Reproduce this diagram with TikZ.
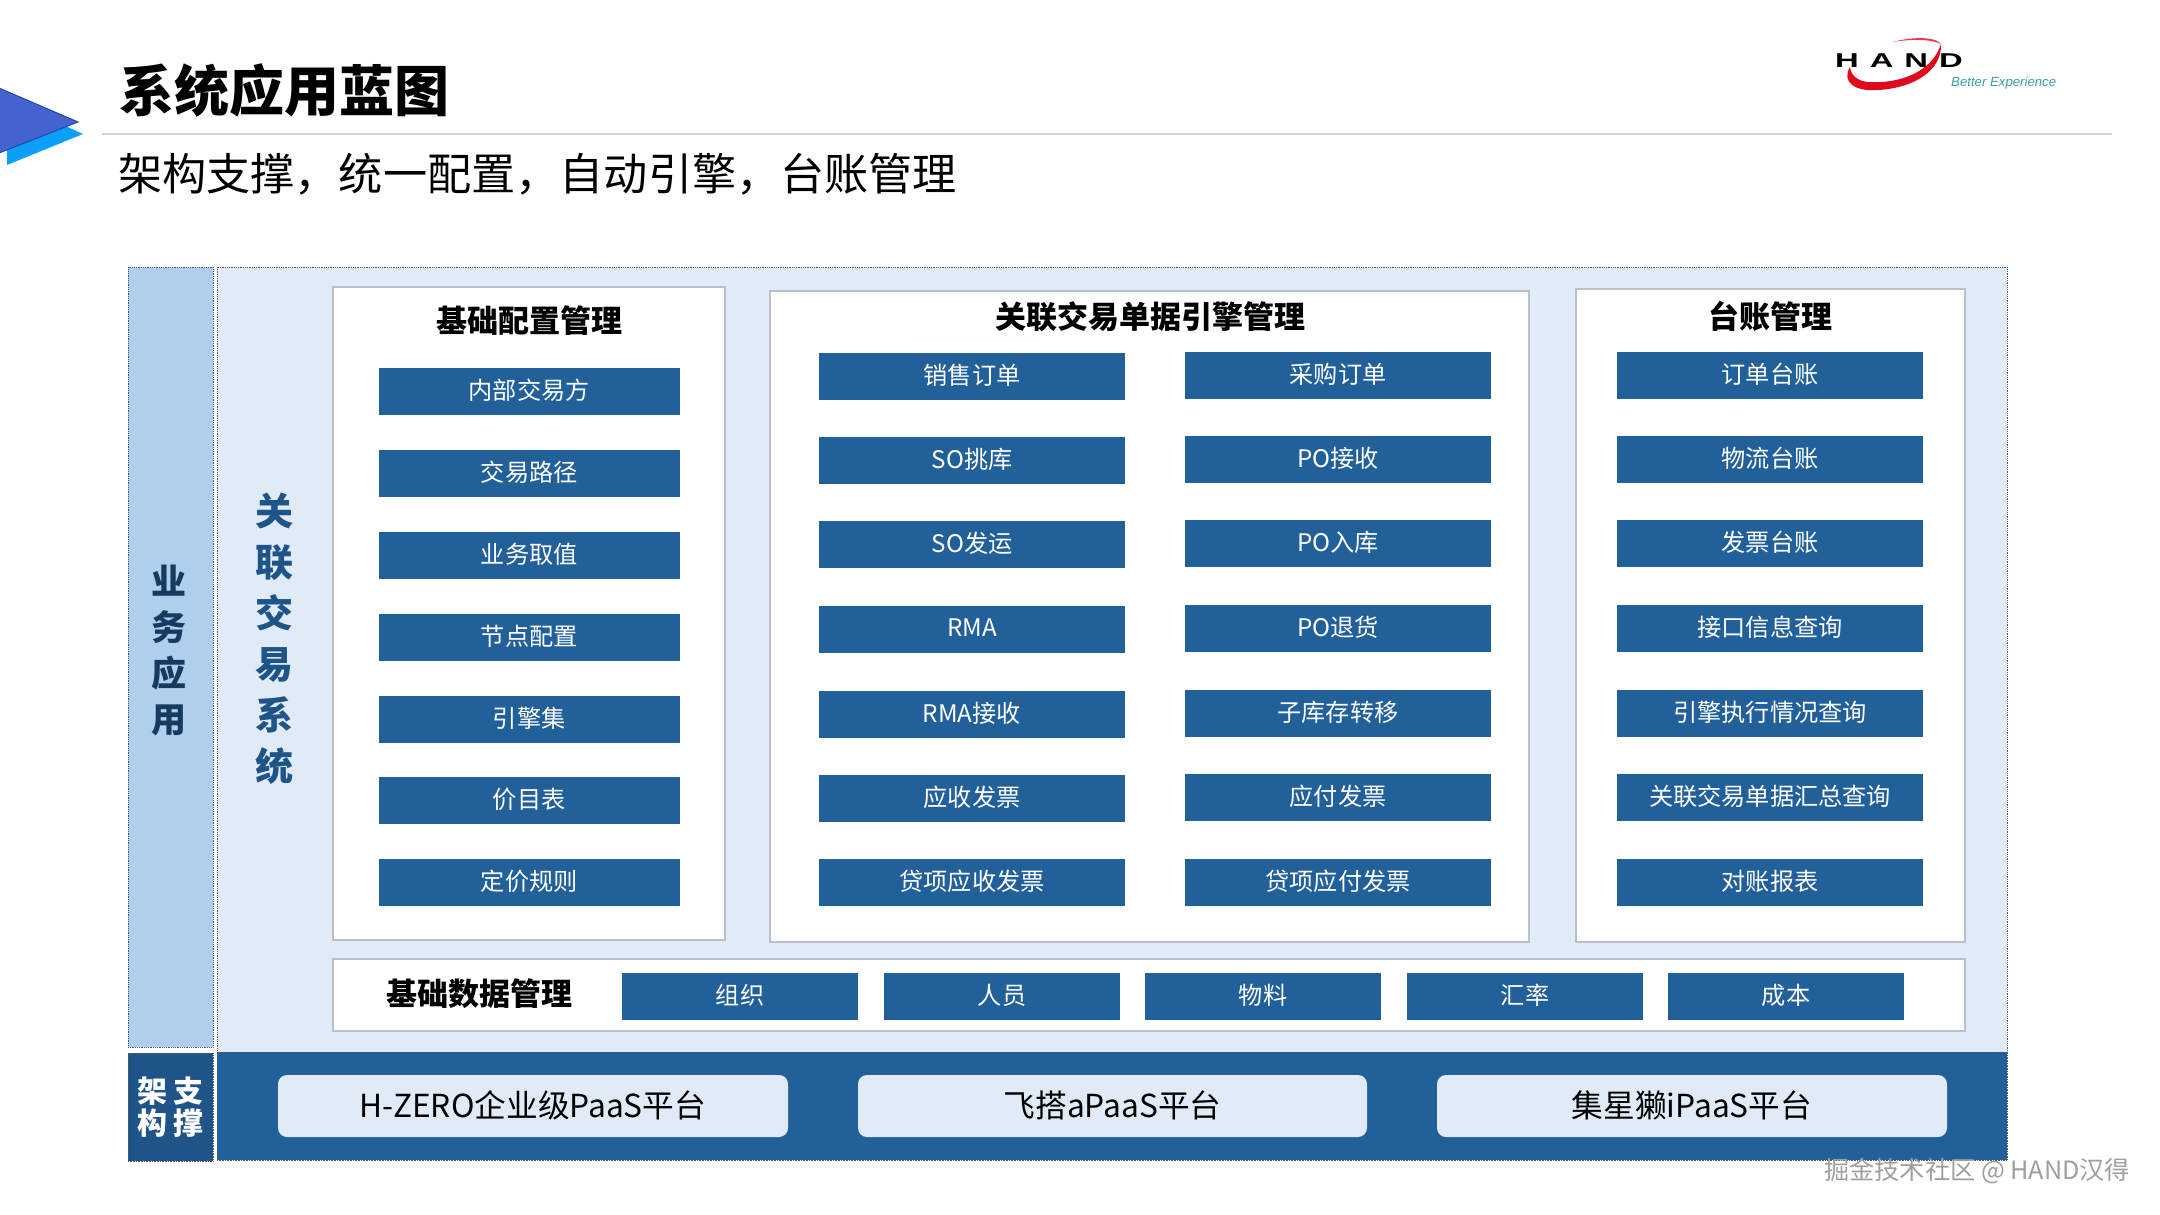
\documentclass[tikz,border=0pt]{standalone}
\usepackage{fontspec}
\usepackage{graphicx}
\setmainfont{Noto Sans CJK SC}
\newfontfamily\logofont{Liberation Sans}
\definecolor{bluedark}{HTML}{22609A}
\definecolor{bluenavy}{HTML}{1F5488}
\definecolor{bluepale}{HTML}{E0EBF7}
\definecolor{bluemid}{HTML}{AFCFEC}
\definecolor{panelline}{HTML}{BBC0C8}
\definecolor{dotline}{HTML}{4A5A6A}
\definecolor{logored}{HTML}{E00A1E}
\definecolor{logoteal}{HTML}{3E9CA6}
\definecolor{triback}{HTML}{0AA0F8}
\definecolor{trifront}{HTML}{4563CC}
\definecolor{triedge}{HTML}{1F45B0}
\newcommand{\fs}[1]{\fontsize{#1}{#1}\selectfont}
\newcommand{\rt}[1]{\raisebox{4pt}{#1}}
\newcommand{\mybox}[7][]{\node[#2,minimum width={(#5-#3)*1pt},minimum height={(#6-#4)*1pt},#1] at ({(#3+#5)/2},{(#4+#6)/2}) {#7};}
\tikzset{
 base/.style={inner sep=0pt,outer sep=0pt,rectangle},
 zone/.style={base,fill=bluepale,draw=dotline,densely dotted,line width=.8pt},
 sidecol/.style={base,fill=bluemid,draw=dotline,densely dotted,line width=.8pt},
 band/.style={base,fill=bluedark,draw=dotline,densely dotted,line width=.6pt},
 navy/.style={base,fill=bluenavy,draw=dotline,densely dotted,line width=.6pt},
 panel/.style={base,fill=white,draw=panelline,line width=2pt},
 btn/.style={base,fill=bluedark,text=white,font=\fs{24.2}},
 platform/.style={base,fill=bluepale,rounded corners=9pt,font=\fs{31.7}},
 heading/.style={inner sep=0pt,font=\fs{31}\bfseries},
 vtext/.style={inner sep=0pt,align=center},
}
\begin{document}
\begin{tikzpicture}[x=1pt,y=-1pt]
\useasboundingbox (0,0) rectangle (2160,1215);
% header
\fill[triback] (7,165) -- (83,134) -- (7,100) -- cycle;
\filldraw[fill=trifront,draw=triedge,line width=1pt] (-1,88) -- (78,122) -- (-1,153) -- cycle;
\node[anchor=west,inner sep=0pt,font=\fs{55}\bfseries] (title) at (119,91) {系统应用蓝图};
\draw[gray!35,line width=1.5pt] (102,134) -- (2112,134);
\node[anchor=west,inner sep=0pt,font=\fs{44.15}] (subtitle) at (118,174.5) {架构支撑，统一配置，自动引擎，台账管理};
% logo
\fill[logored] (1941,44) .. controls (1932,72) and (1900,84) .. (1868,82) .. controls (1858,81) and (1851,76) .. (1850,67) .. controls (1841,82) and (1855,92) .. (1878,90) .. controls (1915,88) and (1942,70) .. cycle;
\fill[logored!80!white] (1941,44) .. controls (1935,36) and (1910,37) .. (1893,42) .. controls (1910,39) and (1932,39) .. cycle;
\node[inner sep=0pt,font=\logofont\fs{20}\bfseries] (logotext) at (1899,61) {\scalebox{1.64}[1]{H\,\,A\,\,N\,\,D}};
\node[anchor=west,inner sep=0pt,text=logoteal,font=\logofont\fs{13.2}\itshape] (logotag) at (1951,83.5) {Better Experience};
% zones
\mybox[name=zoneMain]{zone}{217}{267}{2007}{1052}{}
\mybox[name=zoneBiz]{sidecol}{128}{267}{213}{1047}{}
\mybox[name=zoneBand]{band}{217}{1052}{2007}{1160}{}
\mybox[name=zoneArch]{navy}{128}{1053}{213}{1161}{}
\node[vtext,font=\fontsize{35}{46}\selectfont\bfseries,text=bluenavy!70!black] (bizlabel) at (169,651) {业\\务\\应\\用};
\node[vtext,font=\fontsize{38}{51}\selectfont\bfseries,text=bluenavy] (syslabel) at (274,638.5) {关\\联\\交\\易\\系\\统};
\node[vtext,font=\fontsize{30}{32}\selectfont\bfseries,text=white] (archlabel) at (170,1107) {架\hspace{6pt}支\\构\hspace{6pt}撑};
% panels
\mybox[name=panelA]{panel}{333}{287}{725}{940}{}
\mybox[name=panelB]{panel}{770}{291}{1529}{942}{}
\mybox[name=panelC]{panel}{1576}{289}{1965}{942}{}
\mybox[name=panelD]{panel}{333}{959}{1965}{1031}{}
\node[heading] (headA) at (529,320.5) {基础配置管理};
\node[heading] (headB) at (1150,317) {关联交易单据引擎管理};
\node[heading] (headC) at (1770,316) {台账管理};
\node[heading] (headD) at (479,994) {基础数据管理};
% column 1
\mybox[name=a1]{btn}{378.5}{368}{680}{415}{\rt{内部交易方}}
\mybox[name=a2]{btn}{378.5}{450}{680}{497}{\rt{交易路径}}
\mybox[name=a3]{btn}{378.5}{532}{680}{579}{\rt{业务取值}}
\mybox[name=a4]{btn}{378.5}{614}{680}{661}{\rt{节点配置}}
\mybox[name=a5]{btn}{378.5}{696}{680}{743}{\rt{引擎集}}
\mybox[name=a6]{btn}{378.5}{777}{680}{824}{\rt{价目表}}
\mybox[name=a7]{btn}{378.5}{859}{680}{906}{\rt{定价规则}}
% column 2
\mybox[name=b1]{btn}{819}{353}{1125}{400}{\rt{销售订单}}
\mybox[name=b2]{btn}{819}{437}{1125}{484}{\rt{SO挑库}}
\mybox[name=b3]{btn}{819}{521}{1125}{568}{\rt{SO发运}}
\mybox[name=b4]{btn}{819}{606}{1125}{653}{\rt{RMA}}
\mybox[name=b5]{btn}{819}{691}{1125}{738}{\rt{RMA接收}}
\mybox[name=b6]{btn}{819}{775}{1125}{822}{\rt{应收发票}}
\mybox[name=b7]{btn}{819}{859}{1125}{906}{\rt{贷项应收发票}}
% column 3
\mybox[name=c1]{btn}{1185}{352}{1491}{399}{\rt{采购订单}}
\mybox[name=c2]{btn}{1185}{436}{1491}{483}{\rt{PO接收}}
\mybox[name=c3]{btn}{1185}{520}{1491}{567}{\rt{PO入库}}
\mybox[name=c4]{btn}{1185}{605}{1491}{652}{\rt{PO退货}}
\mybox[name=c5]{btn}{1185}{690}{1491}{737}{\rt{子库存转移}}
\mybox[name=c6]{btn}{1185}{774}{1491}{821}{\rt{应付发票}}
\mybox[name=c7]{btn}{1185}{859}{1491}{906}{\rt{贷项应付发票}}
% column 4
\mybox[name=d1]{btn}{1617}{352}{1923}{399}{\rt{订单台账}}
\mybox[name=d2]{btn}{1617}{436}{1923}{483}{\rt{物流台账}}
\mybox[name=d3]{btn}{1617}{520}{1923}{567}{\rt{发票台账}}
\mybox[name=d4]{btn}{1617}{605}{1923}{652}{\rt{接口信息查询}}
\mybox[name=d5]{btn}{1617}{690}{1923}{737}{\rt{引擎执行情况查询}}
\mybox[name=d6]{btn}{1617}{774}{1923}{821}{\rt{关联交易单据汇总查询}}
\mybox[name=d7]{btn}{1617}{859}{1923}{906}{\rt{对账报表}}
% base data
\mybox[name=e1]{btn}{622}{973}{858}{1020}{\rt{组织}}
\mybox[name=e2]{btn}{884}{973}{1120}{1020}{\rt{人员}}
\mybox[name=e3]{btn}{1145}{973}{1381}{1020}{\rt{物料}}
\mybox[name=e4]{btn}{1407}{973}{1643}{1020}{\rt{汇率}}
\mybox[name=e5]{btn}{1668}{973}{1904}{1020}{\rt{成本}}
% platforms
\mybox[name=p1]{platform}{278}{1075}{788}{1137}{\rt{H-ZERO企业级PaaS平台}}
\mybox[name=p2]{platform}{858}{1075}{1367}{1137}{\rt{飞搭aPaaS平台}}
\mybox[name=p3]{platform}{1437}{1075}{1947}{1137}{\rt{集星獭iPaaS平台}}
% watermark
\node[anchor=west,inner sep=0pt,text=gray!75,font=\fs{25.2}] (wm) at (1824,1171) {掘金技术社区 @ HAND汉得};
\end{tikzpicture}
\end{document}
